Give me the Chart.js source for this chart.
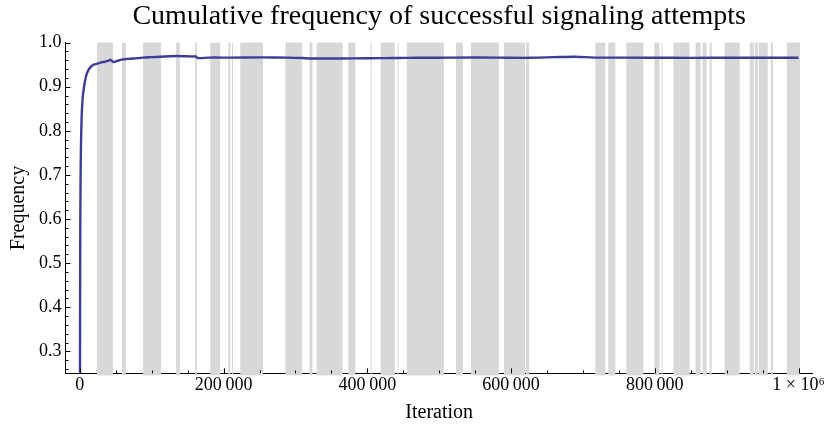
<!DOCTYPE html>
<html>
<head>
<meta charset="utf-8">
<script src="https://cdn.jsdelivr.net/npm/chart.js@4"></script>
<style>
  body { margin: 0; background: #fff; }
  #wrap { width: 826px; height: 430px; }
</style>
</head>
<body>
<div id="wrap"><canvas id="freqChart"></canvas></div>
<script>
// cumulative success frequency, sampled along the run
const iterations = [0, 400, 1000, 1800, 2800, 3800, 4800, 6000, 7200, 8500, 10000, 12000, 14000, 16500,
    19000, 22000, 25000, 28000, 31000, 34000, 37000, 40000, 43000, 45500, 48000, 51000, 55000,
    60000, 66000, 75000, 88000, 100000, 112000, 125000, 135000, 148000, 158000, 161000, 164000, 180000,
    210000, 250000, 290000, 310000, 322000, 360000, 400000, 440000, 470000, 520000, 580000, 625000,
    660000, 690000, 716000, 760000, 820000, 880000, 940000, 1000000];
const frequency = [0.0, 0.5, 0.7, 0.79, 0.845, 0.872, 0.888, 0.902, 0.913, 0.923, 0.931, 0.938, 0.943, 0.947,
    0.950, 0.951, 0.953, 0.954, 0.956, 0.956, 0.958, 0.959, 0.961, 0.957, 0.956, 0.958, 0.960,
    0.962, 0.963, 0.964, 0.966, 0.967, 0.968, 0.969, 0.9695, 0.969, 0.9685, 0.969, 0.965, 0.966,
    0.966, 0.9665, 0.966, 0.965, 0.964, 0.964, 0.9645, 0.965, 0.9655, 0.966, 0.966, 0.9655,
    0.967, 0.968, 0.966, 0.966, 0.9655, 0.9655, 0.9655, 0.9655];

// shaded iteration intervals
const bandStart = [23700, 58600, 87900, 133900, 160500, 181400, 206500, 211700, 223200, 286000, 319500,
    329300, 373500, 404600, 418600, 442300, 454900, 523200, 544200, 590200, 620900, 717200, 735300,
    760400, 799500, 809300, 826000, 856700, 866500, 876300, 897200, 932100, 939100, 944600, 961400, 983700];
const bandEnd = [46000, 63800, 113000, 139100, 162800, 195300, 209300, 213100, 254900, 309300, 323700,
    365600, 383300, 406000, 438100, 443700, 506500, 533000, 583200, 619500, 625100, 731100, 745100,
    784200, 806500, 810700, 848400, 863700, 872100, 879100, 918100, 937700, 943300, 957200, 964200, 1001900];

const xMajor = [0, 200000, 400000, 600000, 800000, 1000000];
const xMinor = [50000, 100000, 150000, 250000, 300000, 350000, 450000, 500000, 550000, 650000, 700000, 750000, 850000, 900000, 950000];
const yMajor = [0.3, 0.4, 0.5, 0.6, 0.7, 0.8, 0.9, 1.0];

const serif = 'Liberation Serif';

const bandsPlugin = {
    id: 'bands',
    beforeDatasetsDraw(chart) {
        const ctx = chart.ctx, x = chart.scales.x, a = chart.chartArea;
        ctx.save();
        ctx.fillStyle = '#d8d8d8';
        for (let i = 0; i < bandStart.length; i++) {
            const x0 = x.getPixelForValue(bandStart[i]);
            const x1 = x.getPixelForValue(bandEnd[i]);
            ctx.fillRect(x0, a.top, x1 - x0, a.bottom - a.top + 2);
        }
        ctx.restore();
    }
};

// inward ticks along both axes, plus minor ticks
const ticksPlugin = {
    id: 'inTicks',
    afterDatasetsDraw(chart) {
        const ctx = chart.ctx, x = chart.scales.x, y = chart.scales.y, a = chart.chartArea;
        ctx.save();
        ctx.strokeStyle = '#000';
        ctx.lineWidth = 1;
        ctx.beginPath();
        xMajor.forEach(v => { const p = Math.round(x.getPixelForValue(v)) + 0.5; ctx.moveTo(p, a.bottom); ctx.lineTo(p, a.bottom - 5); });
        xMinor.forEach(v => { const p = Math.round(x.getPixelForValue(v)) + 0.5; ctx.moveTo(p, a.bottom); ctx.lineTo(p, a.bottom - 3); });
        for (let k = 13; k <= 50; k++) {
            const v = k / 50;
            const p = Math.round(y.getPixelForValue(v)) + 0.5;
            const len = (k % 5 === 0) ? 5 : 3;
            ctx.moveTo(a.left, p); ctx.lineTo(a.left + len, p);
        }
        ctx.stroke();
        ctx.restore();
    }
};

new Chart(document.getElementById('freqChart'), {
    type: 'line',
    data: {
        datasets: [{
            label: 'Frequency',
            data: iterations.map((it, i) => ({ x: it, y: frequency[i] })),
            borderColor: '#3d3d99',
            borderWidth: 2.4,
            pointRadius: 0,
            tension: 0.3,
            fill: false
        }]
    },
    options: {
        responsive: true,
        maintainAspectRatio: false,
        animation: false,
        layout: { padding: { left: 7, right: 7, top: 0, bottom: 5 } },
        plugins: {
            legend: { display: false },
            tooltip: { enabled: false },
            title: {
                display: true,
                fullSize: false,
                text: 'Cumulative frequency of successful signaling attempts',
                color: '#000',
                font: { family: serif, size: 28, weight: 'normal' },
                padding: { top: 0, bottom: 9 }
            }
        },
        scales: {
            x: {
                type: 'linear',
                min: -20000,
                max: 1020000,
                afterBuildTicks: s => { s.ticks = xMajor.map(v => ({ value: v })); },
                ticks: {
                    color: '#000',
                    font: { family: serif, size: 18 },
                    padding: 1,
                    maxRotation: 0,
                    callback: v => v === 1000000 ? '1 × 10⁶' : String(v).replace(/\B(?=(\d{3})+(?!\d))/g, '\u2009')
                },
                grid: { display: false, drawTicks: false },
                border: { display: true, color: '#000', width: 1 },
                title: { display: true, text: 'Iteration', color: '#000', font: { family: serif, size: 20 }, padding: { top: 4, bottom: 0 } }
            },
            y: {
                min: 0.25,
                max: 1.0,
                afterBuildTicks: s => { s.ticks = yMajor.map(v => ({ value: v })); },
                ticks: {
                    color: '#000',
                    font: { family: serif, size: 18 },
                    padding: 4,
                    callback: v => v.toFixed(1)
                },
                grid: { display: false, drawTicks: false },
                border: { display: true, color: '#000', width: 1 },
                title: { display: true, text: 'Frequency', color: '#000', font: { family: serif, size: 20 }, padding: { top: 0, bottom: 4 } }
            }
        }
    },
    plugins: [bandsPlugin, ticksPlugin]
});
</script>
</body>
</html>
